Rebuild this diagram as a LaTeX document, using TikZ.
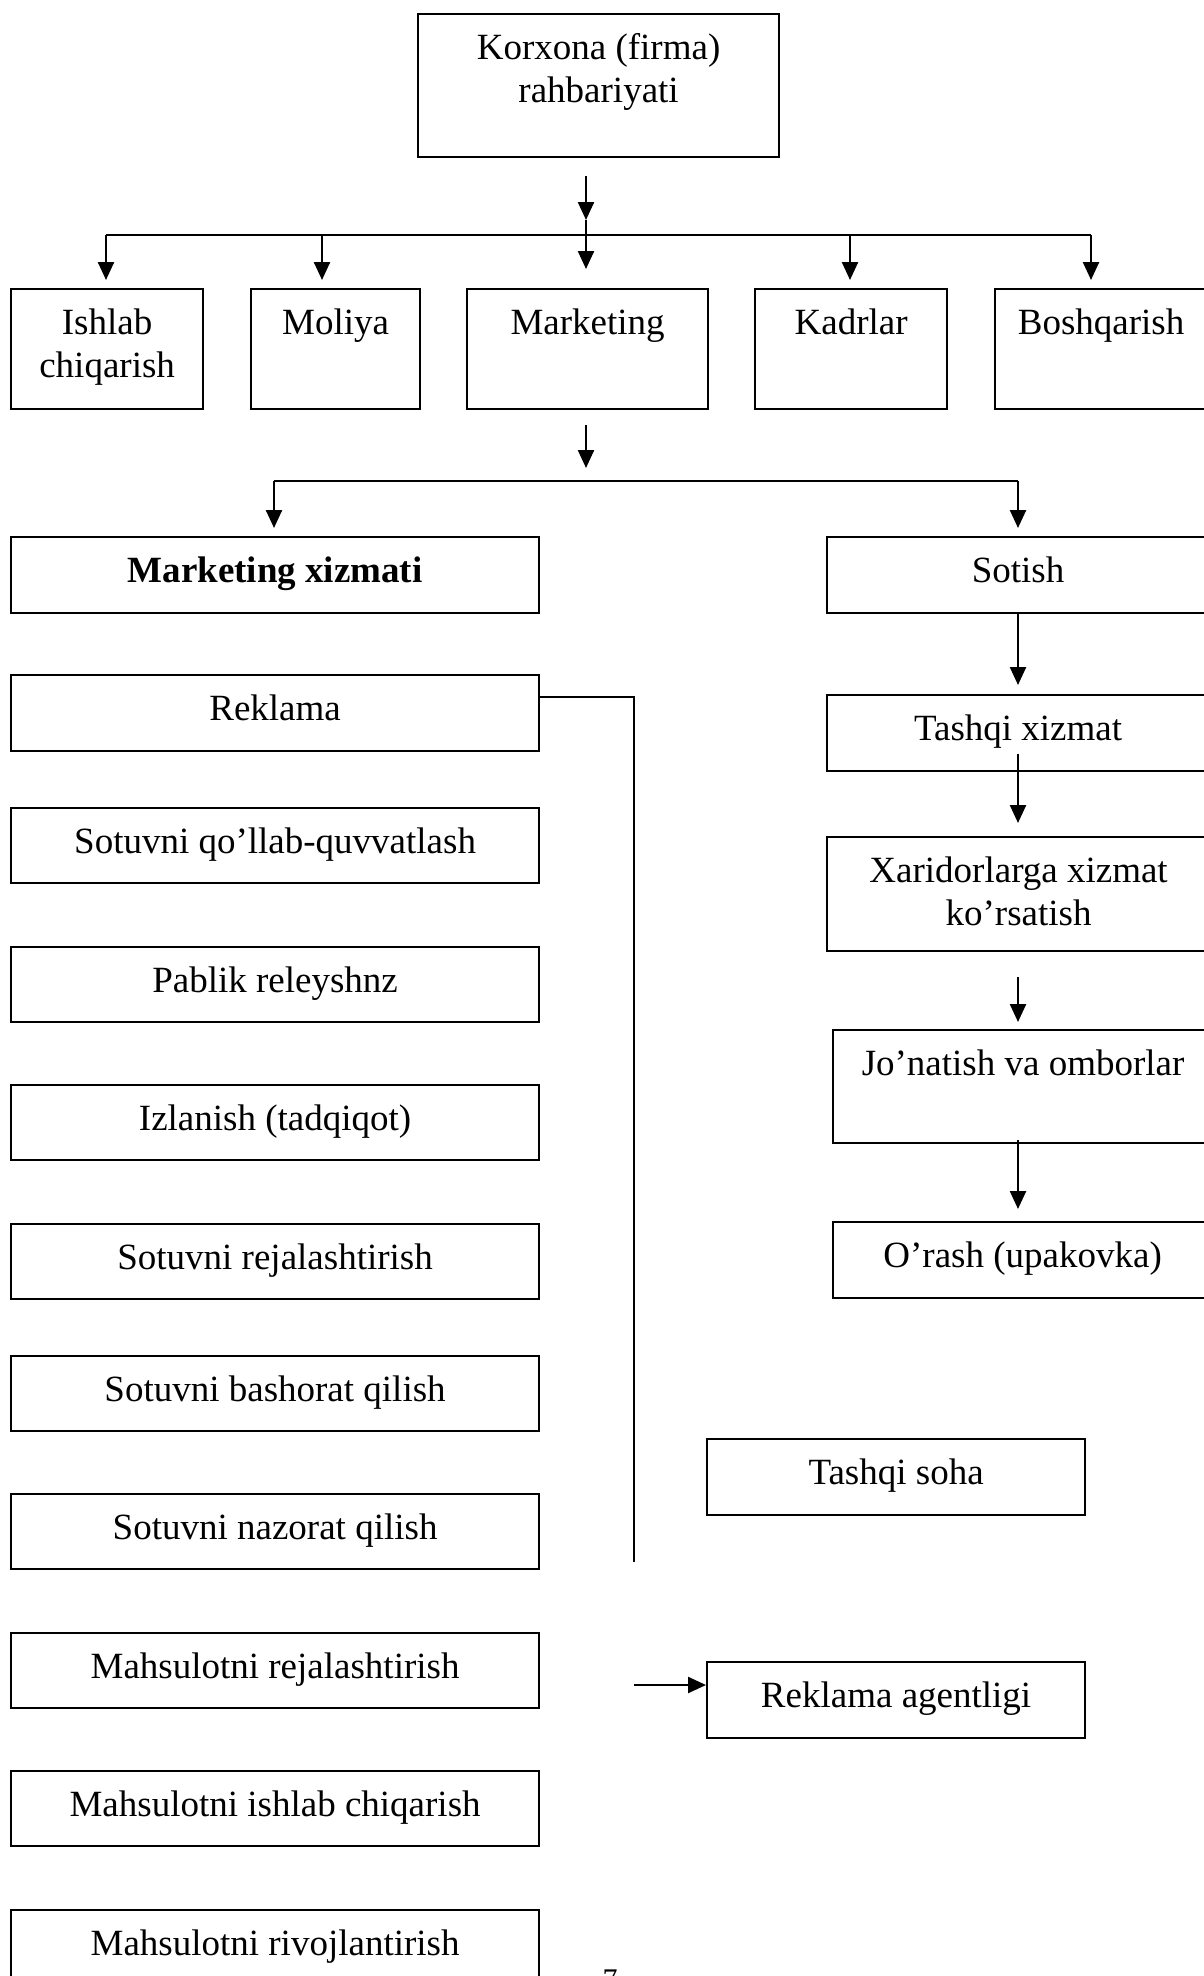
\documentclass[tikz,border=0pt]{standalone}
\usepackage{fontspec}
\setmainfont{Liberation Serif}
\usetikzlibrary{arrows.meta}

% Box text: fixed width/height, first baseline 45pt below the top edge
\newcommand\boxtext[3]{\parbox[c][#2pt][t]{#1pt}{\centering\rule{0pt}{45pt}#3}}

\tikzset{
  box/.style={draw, line width=2.2pt, anchor=north west, inner sep=0pt,
              font=\fontsize{37}{43.5}\selectfont},
  link/.style={line width=2.4pt},
  arr/.style={link, -{Triangle[length=18pt,width=16pt]}},
}

\begin{document}
\begin{tikzpicture}[x=1pt, y=-1pt]
\path[use as bounding box] (0,0) rectangle (1204,1976);
\fill[white] (0,0) rectangle (1204,1976);
\clip (0,0) rectangle (1204,1976);

% top level
\node[box] (top) at (417,13) {\boxtext{361}{143}{Korxona (firma)\\rahbariyati}};

% departments
\node[box] (ishlab) at (10,288)  {\boxtext{192}{120}{Ishlab\\chiqarish}};
\node[box] (moliya) at (250,288) {\boxtext{169}{120}{Moliya}};
\node[box] (mark)   at (466,288) {\boxtext{241}{120}{Marketing}};
\node[box] (kadr)   at (754,288) {\boxtext{192}{120}{Kadrlar}};
\node[box] (bosh)   at (994,288) {\boxtext{212}{120}{Boshqarish}};

% marketing service column
\node[box] (mx)       at (10,536)  {\boxtext{528}{76}{\textbf{Marketing xizmati}}};
\node[box] (rek)      at (10,674)  {\boxtext{528}{76}{Reklama}};
\node[box] (qollab)   at (10,807)  {\boxtext{528}{75}{Sotuvni qo’llab-quvvatlash}};
\node[box] (pablik)   at (10,946)  {\boxtext{528}{75}{Pablik releyshnz}};
\node[box] (izlanish) at (10,1084) {\boxtext{528}{75}{Izlanish (tadqiqot)}};
\node[box] (srej)     at (10,1223) {\boxtext{528}{75}{Sotuvni rejalashtirish}};
\node[box] (sbash)    at (10,1355) {\boxtext{528}{75}{Sotuvni bashorat qilish}};
\node[box] (snaz)     at (10,1493) {\boxtext{528}{75}{Sotuvni nazorat qilish}};
\node[box] (mrej)     at (10,1632) {\boxtext{528}{75}{Mahsulotni rejalashtirish}};
\node[box] (mish)     at (10,1770) {\boxtext{528}{75}{Mahsulotni ishlab chiqarish}};
\node[box] (mriv)     at (10,1909) {\boxtext{528}{100}{Mahsulotni rivojlantirish}};

% sales column
\node[box] (sotish) at (826,536)  {\boxtext{382}{76}{Sotish}};
\node[box] (txiz)   at (826,694)  {\boxtext{382}{76}{Tashqi xizmat}};
\node[box] (xar)    at (826,836)  {\boxtext{383}{114}{Xaridorlarga xizmat\\ko’rsatish}};
\node[box] (jon)    at (832,1029) {\boxtext{380}{113}{Jo’natish va omborlar}};
\node[box] (orash)  at (832,1221) {\boxtext{379}{76}{O’rash (upakovka)}};

% outside partners
\node[box] (tsoha)  at (706,1438) {\boxtext{378}{76}{Tashqi soha}};
\node[box] (ragent) at (706,1661) {\boxtext{378}{76}{Reklama agentligi}};

% page number
\node[anchor=base, inner sep=0pt, font=\fontsize{30}{36}\selectfont] (pg) at (610,1989) {7};

% top box to departments
\coordinate (t1) at (586,220);
\coordinate (t0) at ([yshift=-18pt]t1 |- top.south);
\draw[arr] (t0) -- (t1);
\draw[arr] (t1) -- ([yshift=19pt]t1 |- mark.north);
\coordinate (b1) at (106,235);
\coordinate (b2) at (322,235);
\coordinate (b4) at (850,235);
\coordinate (b5) at (1091,235);
\draw[link] (b1) -- (b5);
\draw[arr, shorten >=8pt] (b1) -- (b1 |- ishlab.north);
\draw[arr, shorten >=8pt] (b2) -- (b2 |- moliya.north);
\draw[arr, shorten >=8pt] (b4) -- (b4 |- kadr.north);
\draw[arr, shorten >=8pt] (b5) -- (b5 |- bosh.north);

% marketing to service and sales
\coordinate (m1) at (586,468);
\coordinate (m0) at ([yshift=-15pt]m1 |- mark.south);
\draw[arr] (m0) -- (m1);
\coordinate (c1) at (274,481);
\coordinate (c2) at (1018,481);
\draw[link] (c1) -- (c2);
\draw[arr, shorten >=8pt] (c1) -- (c1 |- mx.north);
\draw[arr, shorten >=8pt] (c2) -- (c2 |- sotish.north);

% sales chain
\coordinate (s1) at (1018,614);
\draw[arr] (s1) -- ([yshift=9pt]s1 |- txiz.north);
\draw[arr] ([yshift=18pt]s1 |- txiz.south) -- ([yshift=13pt]s1 |- xar.north);
\draw[arr] ([yshift=-25pt]s1 |- xar.south) -- ([yshift=7pt]s1 |- jon.north);
\draw[arr] ([yshift=4pt]s1 |- jon.south) -- ([yshift=12pt]s1 |- orash.north);

% advertising line and agency
\coordinate (rl) at (634,1562);
\draw[link] ([yshift=-23pt]rek.north east) -| (rl);
\coordinate (ag) at (634,1685);
\draw[arr] (ag) -- (ag -| ragent.west);
\end{tikzpicture}
\end{document}
